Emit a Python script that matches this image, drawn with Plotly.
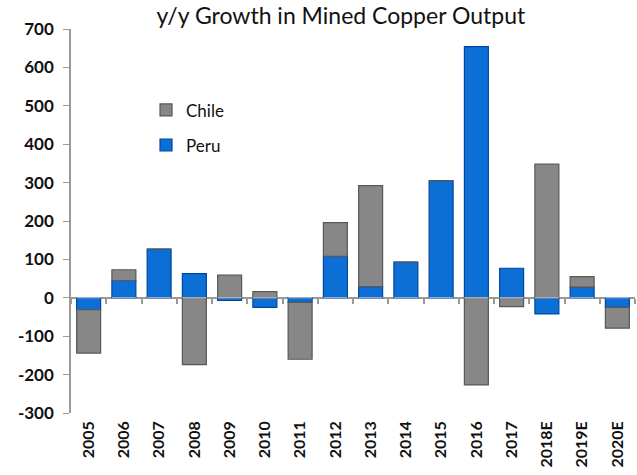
import plotly.graph_objects as go

years = ["2005", "2006", "2007", "2008", "2009", "2010", "2011", "2012",
         "2013", "2014", "2015", "2016", "2017", "2018E", "2019E", "2020E"]
chile = [-113, 28, 0, -174, 59, 16, -148, 88, 263, 0, 0, -227, -23, 348, 27, -54]
peru = [-31, 45, 127, 63, -7, -25, -12, 108, 29, 93, 305, 654, 77, -42, 28, -25]
y_ticks = [-300, -200, -100, 0, 100, 200, 300, 400, 500, 600, 700]
y_tick_labels = ["-300", "-200", "-100", "0", "100", "200", "300", "400",
                 "500", "600", "700"]

FONT = "Lato"

fig = go.Figure()
fig.add_trace(go.Bar(
    x=years, y=peru, name="Peru", legendgroup="p",
    marker=dict(color="#0b6fd6", line=dict(color="#00479e", width=1.2)),
    legendrank=2,
))
fig.add_trace(go.Bar(
    x=years, y=chile, name="Chile", legendgroup="c",
    marker=dict(color="#878787", line=dict(color="#585858", width=1.2)),
    legendrank=1,
))
# helper trace to carry the axis drawn at the zero line
fig.add_trace(go.Bar(x=years, y=[0] * len(years), xaxis="x2",
                     showlegend=False, hoverinfo="skip",
                     marker=dict(color="rgba(0,0,0,0)")))

fig.update_layout(
    width=637, height=475,
    barmode="relative",
    bargap=0.32,
    plot_bgcolor="white",
    paper_bgcolor="white",
    margin=dict(l=71, r=2, t=29, b=62, autoexpand=False),
    font=dict(family=FONT, color="#111111"),
    title=dict(text="y/y Growth in Mined Copper Output",
               x=0.535, xanchor="center", y=0.984, yanchor="top",
               font=dict(family=FONT, size=23, color="#111111")),
    showlegend=True,
    legend=dict(x=0.133, y=0.835, xanchor="left", yanchor="top",
                font=dict(family=FONT, size=17, color="#111111"),
                bgcolor="rgba(0,0,0,0)", itemwidth=30, tracegroupgap=10),
    yaxis=dict(range=[-300, 700], tickvals=y_ticks, ticktext=y_tick_labels,
               automargin=False,
               showgrid=False, zeroline=True, zerolinecolor="#9a9a9a",
               zerolinewidth=1.5,
               showline=True, linecolor="#9a9a9a", linewidth=1.5,
               ticks="outside", ticklen=6, tickcolor="#9a9a9a",
               ticklabelstandoff=6,
               tickfont=dict(family=FONT, size=17, color="#111111",
                             weight="bold")),
    xaxis=dict(type="category", showgrid=False, showline=False,
               ticks="", tickangle=-90, automargin=False,
               ticklabelstandoff=4,
               tickfont=dict(family=FONT, size=16, color="#111111",
                             weight="bold")),
    xaxis2=dict(type="category", overlaying="x", matches="x",
                anchor="free", position=0.3, side="bottom",
                showline=False, showgrid=False, showticklabels=False,
                ticks="outside", tickson="boundaries", ticklen=5,
                tickcolor="#9a9a9a", tickwidth=1.5),
)

fig.write_html("out.html", config={"displayModeBar": False},
               post_script="document.body.style.margin='0';")
